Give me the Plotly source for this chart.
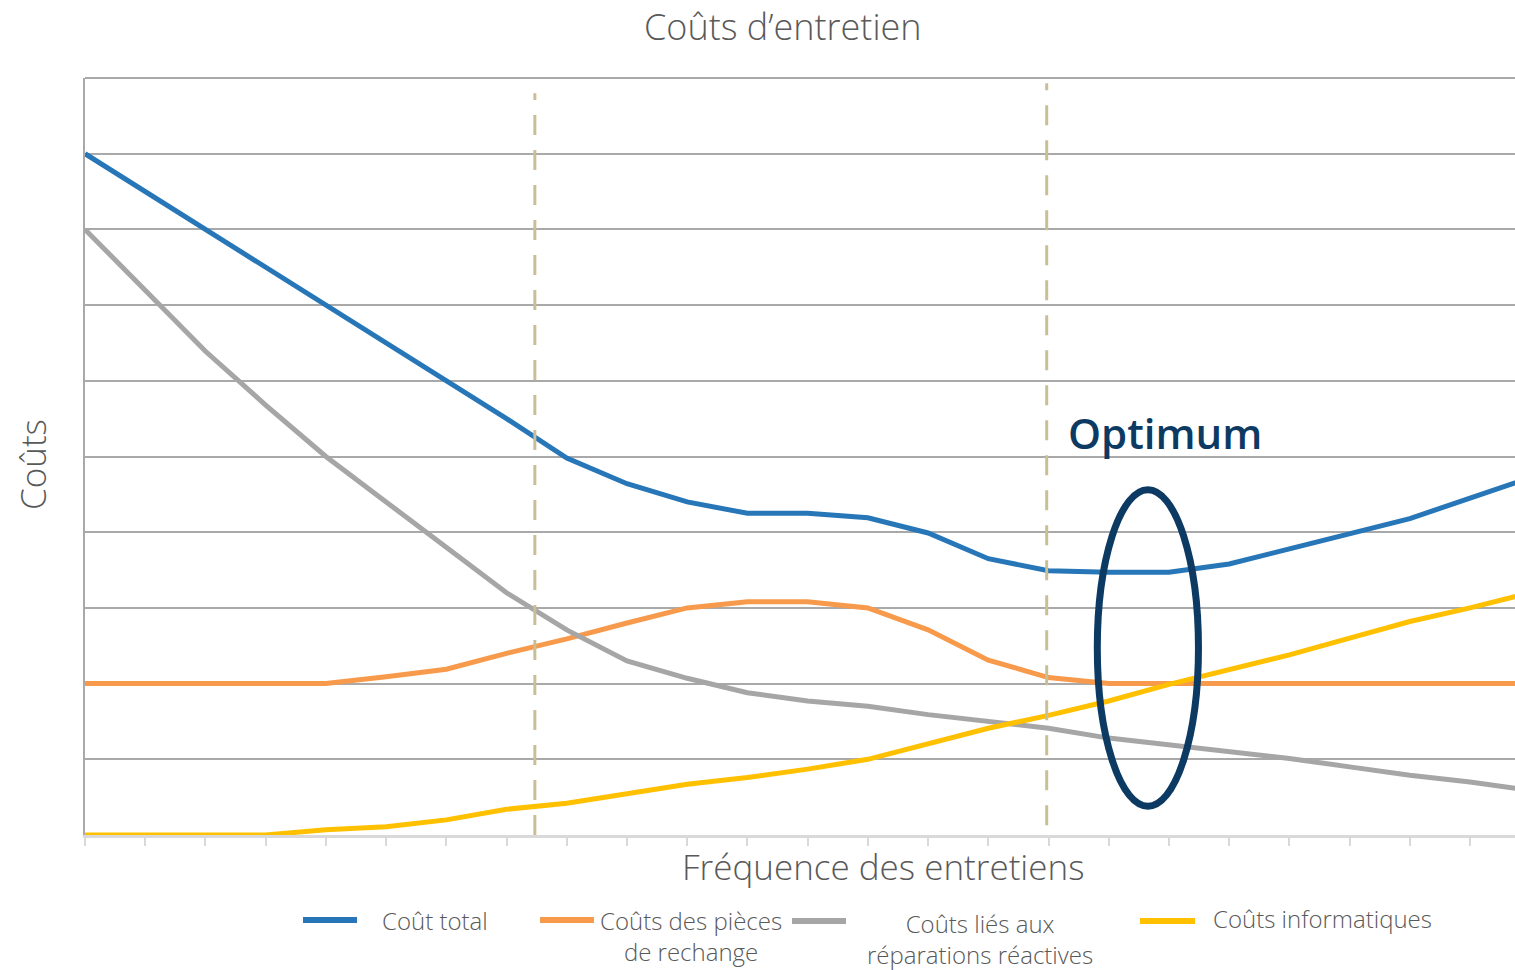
import plotly.graph_objects as go

# ---- data ----
frequence = list(range(25))
cout_total = [9.0, 8.5, 8.0, 7.5, 7.0, 6.5, 6.0, 5.5, 4.98, 4.64, 4.40, 4.25, 4.25, 4.19, 3.99,
              3.65, 3.49, 3.47, 3.47, 3.58, 3.78, 3.98, 4.18, 4.45, 4.72]
couts_pieces = [2.0, 2.0, 2.0, 2.0, 2.0, 2.09, 2.19, 2.40, 2.59, 2.80, 3.0, 3.08, 3.08, 3.0, 2.71,
                2.31, 2.08, 2.0, 2.0, 2.0, 2.0, 2.0, 2.0, 2.0, 2.0]
couts_reparations = [8.0, 7.2, 6.39, 5.68, 5.0, 4.4, 3.79, 3.2, 2.71, 2.30, 2.07, 1.88, 1.77, 1.70,
                     1.59, 1.50, 1.41, 1.28, 1.19, 1.09, 1.01, 0.90, 0.79, 0.70, 0.59]
couts_info = [0.0, 0.0, 0.0, 0.0, 0.07, 0.11, 0.20, 0.34, 0.42, 0.55, 0.67, 0.76, 0.87, 1.0, 1.21,
              1.41, 1.58, 1.77, 1.99, 2.18, 2.38, 2.60, 2.82, 3.0, 3.2]

series_names = ["Coût total", "Coûts des pièces<br>de rechange",
                "Coûts liés aux<br>réparations réactives", "Coûts informatiques"]
series_values = [cout_total, couts_pieces, couts_reparations, couts_info]
series_colors = ["#2776b8", "#f79a4b", "#a6a6a6", "#ffc000"]

phase_limits = [7.47, 15.97]
optimum_box = dict(x0=16.81, x1=18.49, y0=0.38, y1=4.56)

TEXT = "#595959"
NAVY = "#0d3a63"
GRID = "#a9a9a9"
FONT = "Open Sans"

W, H = 1515, 970
L, R, T, B = 85, 0, 78, 135


def px(x):
    return (x - L) / (W - L - R)


def py(y):
    return (H - B - y) / (H - B - T)


fig = go.Figure()
for name, vals, col in zip(series_names, series_values, series_colors):
    fig.add_trace(go.Scatter(x=frequence, y=vals, mode="lines", name=name,
                             line=dict(color=col, width=5), showlegend=False,
                             hoverinfo="skip"))

shapes = [dict(type="line", xref="paper", yref="paper", x0=0, x1=1, y0=1, y1=1,
               line=dict(color=GRID, width=2), layer="below")]
for xv, ytop, ybot in zip(phase_limits, [9.8, 9.93], [0.0, 0.13]):
    shapes.append(dict(type="line", xref="x", yref="y", x0=xv, x1=xv, y0=ybot, y1=ytop,
                       line=dict(color="#c8bf97", width=3, dash="20px,15px"), layer="above"))
shapes.append(dict(type="circle", xref="x", yref="y", layer="above",
                   line=dict(color=NAVY, width=7), **optimum_box))

# custom legend
legend_items = [
    (303, 357, 920, 380, 920, "left"),
    (540, 594, 920, 691, 936, "center"),
    (792, 846, 921, 980, 939, "center"),
    (1140, 1195, 921, 1211, 919, "left"),
]
annotations = []
for (lx0, lx1, ly, tx, ty, anc), name, col in zip(legend_items, series_names, series_colors):
    shapes.append(dict(type="line", xref="paper", yref="paper", x0=px(lx0), x1=px(lx1),
                       y0=py(ly), y1=py(ly), line=dict(color=col, width=6)))
    annotations.append(dict(xref="paper", yref="paper", x=px(tx), y=py(ty), text=name,
                            showarrow=False, xanchor=anc, yanchor="middle", align="center",
                            font=dict(family=FONT, size=24, color=TEXT, weight=300)))

annotations += [
    dict(xref="paper", yref="paper", x=px(783), y=py(27), text="Coûts d’entretien",
         showarrow=False, xanchor="center", yanchor="middle",
         font=dict(family=FONT, size=36, color=TEXT, weight=300)),
    dict(xref="paper", yref="paper", x=px(883), y=py(867), text="Fréquence des entretiens",
         showarrow=False, xanchor="center", yanchor="middle",
         font=dict(family=FONT, size=35, color=TEXT, weight=300)),
    dict(xref="paper", yref="paper", x=px(32), y=py(465), text="Coûts", textangle=-90,
         showarrow=False, xanchor="center", yanchor="middle",
         font=dict(family=FONT, size=35, color=TEXT, weight=300)),
    dict(xref="paper", yref="paper", x=px(1165), y=py(432), text="Optimum",
         showarrow=False, xanchor="center", yanchor="middle",
         font=dict(family=FONT, size=42, color=NAVY, weight=600)),
]

fig.update_layout(
    width=W, height=H,
    margin=dict(l=L, r=R, t=T, b=B),
    paper_bgcolor="white", plot_bgcolor="white",
    shapes=shapes, annotations=annotations,
    xaxis=dict(range=[0, (W - L - R) / 60.22], tickmode="linear", tick0=0, dtick=1,
               showticklabels=False, ticks="outside", ticklen=8, tickwidth=2,
               tickcolor="#d9d9d9", showline=True, linecolor="#d9d9d9", linewidth=3,
               showgrid=False, zeroline=False),
    yaxis=dict(range=[0, 10], tickmode="linear", tick0=0, dtick=1, showticklabels=False,
               showgrid=True, gridcolor=GRID, gridwidth=2, showline=True,
               linecolor=GRID, linewidth=2, zeroline=False, ticks=""),
)

fig.write_html("out.html", config={"displayModeBar": False},
               post_script="document.body.style.margin='0px';")
